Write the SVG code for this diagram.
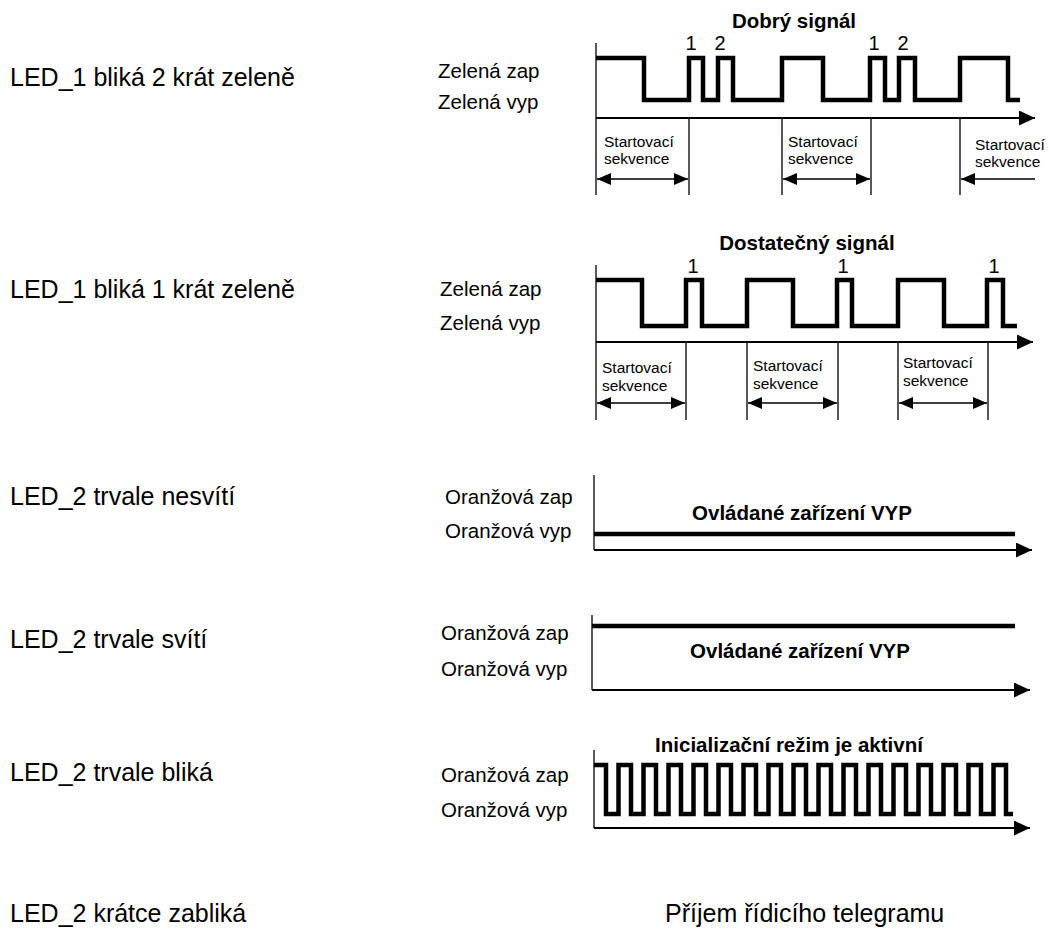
<svg xmlns="http://www.w3.org/2000/svg" width="1049" height="930" viewBox="0 0 1049 930">
<style>
text{font-family:"Liberation Sans",Arial,sans-serif;fill:#000}
.lbl{font-size:25px}
.lv{font-size:20.5px}
.ttl{font-size:20.5px;font-weight:bold;text-anchor:middle}
.num{font-size:20px;text-anchor:middle}
.sm{font-size:15.5px}
.wave{fill:none;stroke:#000;stroke-width:4.5;stroke-linejoin:miter;stroke-linecap:butt}
.axis{fill:none;stroke:#000;stroke-width:2}
.thin{fill:none;stroke:#000;stroke-width:1.3}
.dim{fill:none;stroke:#000;stroke-width:1.3}
</style>
<defs>
<marker id="ax" markerUnits="userSpaceOnUse" markerWidth="17" markerHeight="16" refX="16" refY="7.5" orient="auto">
<path d="M0,0 L16,7.5 L0,15 z" fill="#000"/>
</marker>
<marker id="dm" markerUnits="userSpaceOnUse" markerWidth="15" markerHeight="13" refX="14" refY="6" orient="auto-start-reverse">
<path d="M0,0 L14,6 L0,12 z" fill="#000"/>
</marker>
</defs>

<g id="labels-left">
<text class="lbl" x="10" y="86">LED_1 bliká 2 krát zeleně</text>
<text class="lbl" x="10" y="298">LED_1 bliká 1 krát zeleně</text>
<text class="lbl" x="10" y="505">LED_2 trvale nesvítí</text>
<text class="lbl" x="10" y="648">LED_2 trvale svítí</text>
<text class="lbl" x="10" y="781">LED_2 trvale bliká</text>
<text class="lbl" x="10" y="922">LED_2 krátce zabliká</text>
<text class="lbl" x="665" y="922">Příjem řídicího telegramu</text>
</g>

<g id="row1">
<text class="lv" x="438" y="78">Zelená zap</text>
<text class="lv" x="438" y="109">Zelená vyp</text>
<text class="ttl" x="794" y="28">Dobrý signál</text>
<text class="num" x="691" y="50">1</text>
<text class="num" x="720" y="50">2</text>
<text class="num" x="874" y="50">1</text>
<text class="num" x="903" y="50">2</text>
<path class="wave" d="M596,58 H644 V100 H689 V58 H703 V100 H718 V58 H733 V100 H782 V58 H823 V100 H870 V58 H885 V100 H899 V58 H915 V100 H960 V58 H1008 V100 H1020"/>
<text class="sm" x="604" y="147">Startovací</text>
<text class="sm" x="604" y="164">sekvence</text>
<text class="sm" x="788" y="147">Startovací</text>
<text class="sm" x="788" y="164">sekvence</text>
<text class="sm" x="975" y="150">Startovací</text>
<text class="sm" x="975" y="167">sekvence</text>
</g>

<g id="row2">
<text class="lv" x="440" y="296">Zelená zap</text>
<text class="lv" x="440" y="330">Zelená vyp</text>
<text class="ttl" x="807" y="250">Dostatečný signál</text>
<text class="num" x="693" y="273">1</text>
<text class="num" x="843" y="273">1</text>
<text class="num" x="994" y="273">1</text>
<path class="wave" d="M596,280 H642 V326 H686 V280 H702 V326 H747 V280 H793 V326 H837 V280 H852 V326 H898 V280 H944 V326 H987 V280 H1003 V326 H1017"/>
<text class="sm" x="602" y="373">Startovací</text>
<text class="sm" x="602" y="391">sekvence</text>
<text class="sm" x="753" y="371">Startovací</text>
<text class="sm" x="753" y="389">sekvence</text>
<text class="sm" x="903" y="368">Startovací</text>
<text class="sm" x="903" y="386">sekvence</text>
</g>

<g id="row3">
<text class="lv" x="445" y="504">Oranžová zap</text>
<text class="lv" x="445" y="538">Oranžová vyp</text>
<text class="ttl" x="802" y="520">Ovládané zařízení VYP</text>
<path class="wave" d="M594,534 H1015"/>
</g>

<g id="row4">
<text class="lv" x="441" y="640">Oranžová zap</text>
<text class="lv" x="441" y="676">Oranžová vyp</text>
<text class="ttl" x="800" y="658">Ovládané zařízení VYP</text>
<path class="wave" d="M592,626 H1015"/>
</g>

<g id="row5">
<text class="lv" x="441" y="782">Oranžová zap</text>
<text class="lv" x="441" y="817">Oranžová vyp</text>
<text class="ttl" x="789" y="752">Inicializační režim je aktivní</text>
<path class="wave" d="M594,765 H606 V814 H618.5 V765 H631 V814 H643.5 V765 H656 V814 H668.5 V765 H681 V814 H693.5 V765 H706 V814 H718.5 V765 H731 V814 H743.5 V765 H756 V814 H768.5 V765 H781 V814 H793.5 V765 H806 V814 H818.5 V765 H831 V814 H843.5 V765 H856 V814 H868.5 V765 H881 V814 H893.5 V765 H906 V814 H918.5 V765 H931 V814 H943.5 V765 H956 V814 H968.5 V765 H981 V814 H993.5 V765 H1006 V814 H1013"/>
</g>

<g id="connectors">
<path class="thin" d="M596,43 V195"/>
<path class="axis" d="M596,118 H1035" marker-end="url(#ax)"/>
<path class="thin" d="M689,118 V195 M782,118 V195 M871,118 V195 M960,118 V195"/>
<path class="dim" d="M597,179 H688" marker-start="url(#dm)" marker-end="url(#dm)"/>
<path class="dim" d="M783,179 H870" marker-start="url(#dm)" marker-end="url(#dm)"/>
<path class="dim" d="M961,179 H1035" marker-start="url(#dm)"/>
<path class="thin" d="M596,265 V420"/>
<path class="axis" d="M596,342 H1033" marker-end="url(#ax)"/>
<path class="thin" d="M686,342 V420 M747,342 V420 M838,342 V420 M898,342 V420 M988,342 V420"/>
<path class="dim" d="M597,403 H685" marker-start="url(#dm)" marker-end="url(#dm)"/>
<path class="dim" d="M748,403 H837" marker-start="url(#dm)" marker-end="url(#dm)"/>
<path class="dim" d="M899,403 H987" marker-start="url(#dm)" marker-end="url(#dm)"/>
<path class="thin" d="M594,475 V550"/>
<path class="axis" d="M594,550 H1032" marker-end="url(#ax)"/>
<path class="thin" d="M592,615 V690"/>
<path class="axis" d="M592,690 H1030" marker-end="url(#ax)"/>
<path class="thin" d="M594,750 V828"/>
<path class="axis" d="M594,828 H1030" marker-end="url(#ax)"/>
</g>
</svg>
